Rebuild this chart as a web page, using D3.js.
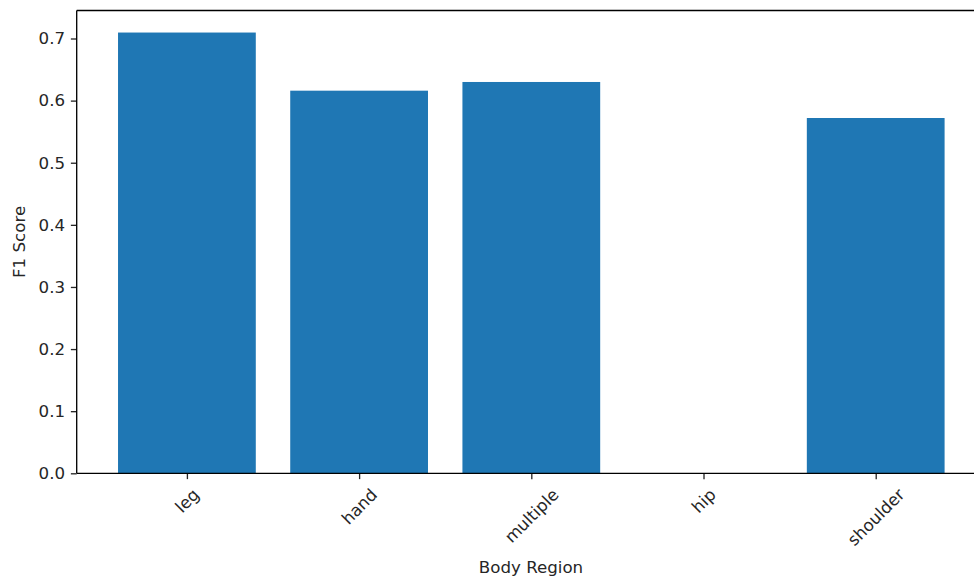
<!DOCTYPE html>
<html><head><meta charset="utf-8">
<script src="https://cdn.jsdelivr.net/npm/d3@7"></script>
<style>body{margin:0;background:#fff}svg{display:block}text{font-family:"DejaVu Sans",sans-serif;fill:#262626}</style>
</head><body><svg id="c" width="974" height="581"></svg>
<script>
const categories = ["leg","hand","multiple","hip","shoulder"];
const values = [0.7096, 0.616, 0.630, 0.0, 0.572];
const yTicks = [0.0,0.1,0.2,0.3,0.4,0.5,0.6,0.7];

const FS = 16.67, TL = 5.83, TP = 5.83;
const svg = d3.select("#c");
const L = 76.7, T = 10.5, B = 473.3;
const n = categories.length;
const xmin = -0.4 - 0.05*(n-0.2), xmax = (n-1)+0.4 + 0.05*(n-0.2);
const unit = 172.2;
const R = L + (xmax - xmin)*unit;
const x = d3.scaleLinear().domain([xmin, xmax]).range([L, R]);
const ymax = d3.max(values)*1.05;
const y = d3.scaleLinear().domain([0, ymax]).range([B, T]);

svg.selectAll("rect.bar").data(values).join("rect").attr("class","bar")
  .attr("x",(d,i)=>x(i-0.4)).attr("width",(d,i)=>x(i+0.4)-x(i-0.4))
  .attr("y",d=>y(d)).attr("height",d=>B-y(d)).attr("fill","#1f77b4");

const ya = svg.append("g").attr("transform",`translate(${L},0)`)
  .call(d3.axisLeft(y).tickValues(yTicks).tickFormat(d3.format(".1f")).tickSize(TL).tickPadding(TP));
ya.select(".domain").remove();
ya.selectAll("line").attr("stroke","#262626").attr("stroke-width",1.33);
ya.selectAll("text").attr("font-size",FS+"px");

const xa = svg.append("g").attr("transform",`translate(0,${B})`)
  .call(d3.axisBottom(x).tickValues(d3.range(n)).tickFormat(i=>categories[i]).tickSize(TL).tickPadding(TP));
xa.select(".domain").remove();
xa.selectAll("line").attr("stroke","#262626").attr("stroke-width",1.33);
const labTop = TL + TP;
const h0 = FS*1.17;
xa.selectAll("text").attr("font-size",FS+"px").attr("text-anchor","middle")
  .attr("dy",null).attr("y",0).attr("x",0)
  .attr("dominant-baseline","central")
  .each(function(){
    const w = this.getComputedTextLength();
    const cy = labTop + (w + h0)/(2*Math.SQRT2);
    d3.select(this).attr("transform",`translate(0,${cy}) rotate(-45)`);
  });

// spines
const sp = svg.append("g").attr("stroke","#000").attr("stroke-width",1.33).attr("fill","none");
sp.append("line").attr("x1",L).attr("x2",L).attr("y1",T).attr("y2",B);
sp.append("line").attr("x1",L).attr("x2",R).attr("y1",B).attr("y2",B);
sp.append("line").attr("x1",L).attr("x2",R).attr("y1",T).attr("y2",T);
sp.append("line").attr("x1",R).attr("x2",R).attr("y1",T).attr("y2",B);

svg.append("text").attr("x",531).attr("y",567).attr("text-anchor","middle").attr("dominant-baseline","central").attr("font-size",FS+"px").text("Body Region");
svg.append("text").attr("transform",`translate(19,${(T+B)/2}) rotate(-90)`).attr("text-anchor","middle").attr("dominant-baseline","central").attr("font-size",FS+"px").text("F1 Score");
</script></body></html>
